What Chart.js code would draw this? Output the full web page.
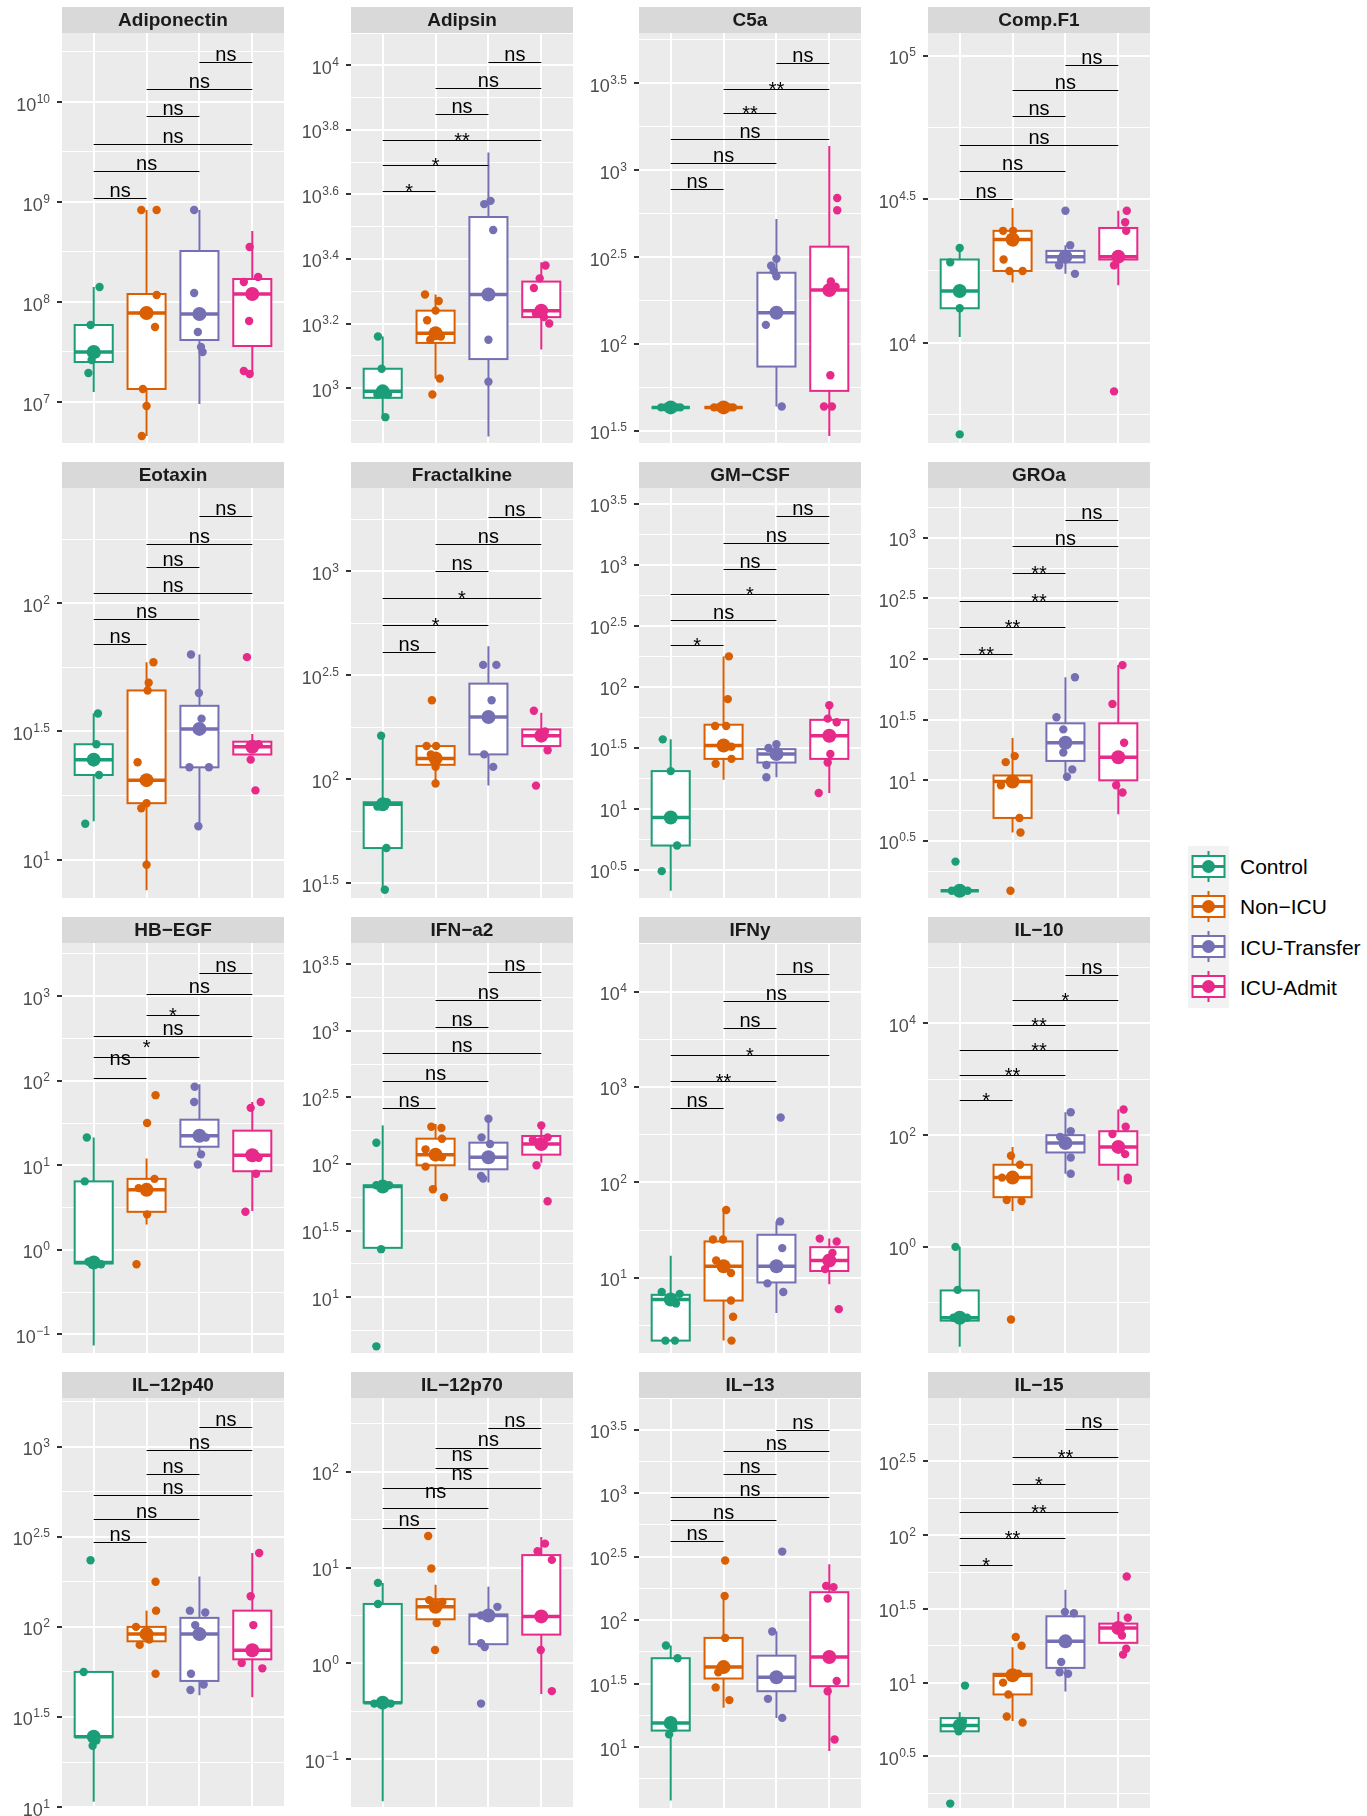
<!DOCTYPE html>
<html>
<head>
<meta charset="utf-8">
<script src="https://cdn.jsdelivr.net/npm/chart.js@4.4.0/dist/chart.umd.min.js"></script>
<style>
  body { margin: 0; background: #fff; width: 1367px; height: 1816px; position: relative; overflow: hidden;
         font-family: "Liberation Sans", Arial, sans-serif; }
  .facet { position: absolute; }
  #legend { position: absolute; left: 1188px; top: 846px; width: 41px; height: 162px; background: #F2F2F2; }
  #legend canvas { display: block; }
  .legtext { position: absolute; left: 1240px; font-size: 21px; line-height: 24px; color: #000; white-space: nowrap; }
</style>
</head>
<body>
<div id="legend"></div>
<script>
// groups and facets
const groups = ["Control", "Non\u2212ICU", "ICU-Transfer", "ICU-Admit"];
const groupColors = ["#1B9E77", "#D95F02", "#7570B3", "#E7298A"];
const panelNames = ["Adiponectin", "Adipsin", "C5a", "Comp.F1",
  "Eotaxin", "Fractalkine", "GM\u2212CSF", "GROa",
  "HB\u2212EGF", "IFN\u2212a2", "IFNy", "IL\u221210",
  "IL\u221212p40", "IL\u221212p70", "IL\u221213", "IL\u221215"];

// all values are log10 units (axis shows 10^x)
const yLimits = [[6.59, 10.69], [2.83, 4.10], [1.43, 3.79], [3.65, 5.08],
  [0.85, 2.45], [1.43, 3.40], [0.27, 3.63], [0.03, 3.41],
  [-1.22, 3.63], [0.58, 3.66], [0.21, 4.51], [-1.90, 5.44],
  [0.995, 3.27], [-1.51, 2.77], [0.52, 3.75], [0.15, 2.93]];
const yTicks = [[7, 8, 9, 10], [3, 3.2, 3.4, 3.6, 3.8, 4], [1.5, 2, 2.5, 3, 3.5], [4, 4.5, 5],
  [1, 1.5, 2], [1.5, 2, 2.5, 3], [0.5, 1, 1.5, 2, 2.5, 3, 3.5], [0.5, 1, 1.5, 2, 2.5, 3],
  [-1, 0, 1, 2, 3], [1, 1.5, 2, 2.5, 3, 3.5], [1, 2, 3, 4], [0, 2, 4],
  [1, 1.5, 2, 2.5, 3], [-1, 0, 1, 2], [1, 1.5, 2, 2.5, 3, 3.5], [0.5, 1, 1.5, 2, 2.5]];

// comparisons, top to bottom
const sigPairs = [[3, 4], [2, 4], [2, 3], [1, 4], [1, 3], [1, 2]];
const sigLabels = [
  ["ns", "ns", "ns", "ns", "ns", "ns"], ["ns", "ns", "ns", "**", "*", "*"],
  ["ns", "**", "**", "ns", "ns", "ns"], ["ns", "ns", "ns", "ns", "ns", "ns"],
  ["ns", "ns", "ns", "ns", "ns", "ns"], ["ns", "ns", "ns", "*", "*", "ns"],
  ["ns", "ns", "ns", "*", "ns", "*"], ["ns", "ns", "**", "**", "**", "**"],
  ["ns", "ns", "*", "ns", "*", "ns"], ["ns", "ns", "ns", "ns", "ns", "ns"],
  ["ns", "ns", "ns", "*", "**", "ns"], ["ns", "*", "**", "**", "**", "*"],
  ["ns", "ns", "ns", "ns", "ns", "ns"], ["ns", "ns", "ns", "ns", "ns", "ns"],
  ["ns", "ns", "ns", "ns", "ns", "ns"], ["ns", "**", "*", "**", "**", "*"]];
const sigLevels = [
  [10.40, 10.13, 9.86, 9.58, 9.31, 9.04], [4.01, 3.93, 3.85, 3.77, 3.69, 3.61],
  [3.62, 3.47, 3.33, 3.18, 3.04, 2.89], [4.97, 4.88, 4.79, 4.69, 4.60, 4.50],
  [2.34, 2.23, 2.14, 2.04, 1.94, 1.84], [3.26, 3.13, 3.00, 2.87, 2.74, 2.61],
  [3.40, 3.18, 2.97, 2.76, 2.55, 2.34], [3.15, 2.93, 2.71, 2.48, 2.26, 2.04],
  [3.28, 3.03, 2.78, 2.53, 2.28, 2.03], [3.44, 3.23, 3.03, 2.83, 2.62, 2.42],
  [4.18, 3.90, 3.62, 3.34, 3.06, 2.78], [4.86, 4.42, 3.97, 3.53, 3.08, 2.63],
  [3.11, 2.98, 2.85, 2.73, 2.60, 2.47], [2.46, 2.25, 2.04, 1.83, 1.62, 1.41],
  [3.50, 3.33, 3.15, 2.97, 2.79, 2.62], [2.72, 2.53, 2.35, 2.16, 1.98, 1.80]];

// box stats per group: [low whisker, q1, median, q3, high whisker]
// points per group: [jitter offset, value]
const adiponectinBox = [[7.10, 7.40, 7.50, 7.77, 8.15], [6.66, 7.13, 7.89, 8.08, 8.92], [6.98, 7.62, 7.88, 8.51, 8.92], [7.28, 7.56, 8.08, 8.23, 8.71]];
const adiponectinPts = [
  [[0.11, 8.15], [-0.06, 7.77], [0.05, 7.48], [-0.04, 7.42], [-0.1, 7.29]],
  [[-0.1, 8.92], [0.19, 8.92], [0.19, 8.07], [-0.06, 7.89], [0.16, 7.75], [-0.07, 7.13], [0, 6.96], [-0.09, 6.66]],
  [[-0.1, 8.92], [-0.1, 8.09], [-0.03, 7.70], [0.03, 7.55], [0.06, 7.50]],
  [[-0.05, 8.55], [-0.16, 8.20], [0.11, 8.25], [-0.06, 7.81], [-0.16, 7.31], [-0.05, 7.28]]];

const adipsinBox = [[2.91, 2.97, 2.99, 3.06, 3.16], [3.03, 3.14, 3.17, 3.24, 3.29], [2.85, 3.09, 3.29, 3.53, 3.73], [3.12, 3.22, 3.24, 3.33, 3.39]];
const adipsinPts = [
  [[-0.09, 3.16], [-0.02, 3.06], [0.1, 2.98], [-0.1, 2.98], [0.05, 2.91]],
  [[-0.2, 3.29], [0.06, 3.27], [0, 3.24], [-0.16, 3.21], [0.1, 3.16], [-0.1, 3.15], [0.08, 3.03], [-0.06, 2.98]],
  [[-0.08, 3.57], [0.04, 3.58], [0.09, 3.49], [0, 3.15], [0, 3.02]],
  [[0.08, 3.38], [-0.03, 3.34], [-0.14, 3.31], [0.15, 3.20], [-0.1, 3.23], [0.05, 3.22]]];

const c5aBox = [[1.635, 1.635, 1.635, 1.635, 1.635], [1.635, 1.635, 1.635, 1.635, 1.635], [1.64, 1.87, 2.18, 2.41, 2.72], [1.47, 1.73, 2.31, 2.56, 3.14]];
const c5aPts = [
  [[-0.18, 1.635], [-0.1, 1.635], [-0.03, 1.635], [0.05, 1.635], [0.12, 1.635], [0.18, 1.635]],
  [[-0.18, 1.635], [-0.1, 1.635], [-0.03, 1.635], [0.05, 1.635], [0.12, 1.635], [0.18, 1.635]],
  [[0, 2.49], [-0.1, 2.45], [-0.05, 2.42], [0, 2.39], [-0.2, 2.11], [0.1, 1.64]],
  [[0.15, 2.84], [0.15, 2.77], [0.03, 2.36], [0.12, 2.33], [0.02, 1.82], [-0.1, 1.64], [0.05, 1.64]]];

const compF1Box = [[4.02, 4.12, 4.18, 4.29, 4.33], [4.21, 4.25, 4.36, 4.39, 4.47], [4.24, 4.28, 4.30, 4.32, 4.34], [4.20, 4.29, 4.30, 4.40, 4.46]];
const compF1Pts = [
  [[0, 4.33], [-0.18, 4.28], [0, 4.12], [0, 3.68]],
  [[-0.18, 4.39], [0.01, 4.39], [0.02, 4.35], [-0.17, 4.29], [-0.06, 4.25], [0.19, 4.25]],
  [[0, 4.46], [0.09, 4.34], [-0.08, 4.29], [-0.12, 4.27], [0.18, 4.24]],
  [[0.16, 4.46], [0.13, 4.42], [0.15, 4.39], [-0.08, 4.27], [-0.08, 3.83]]];

const eotaxinBox = [[1.15, 1.33, 1.39, 1.45, 1.57], [0.88, 1.22, 1.31, 1.66, 1.77], [1.13, 1.36, 1.51, 1.60, 1.80], [1.41, 1.41, 1.44, 1.46, 1.49]];
const eotaxinPts = [
  [[0.08, 1.57], [0.05, 1.45], [0.1, 1.33], [-0.16, 1.14]],
  [[0.13, 1.77], [0.04, 1.69], [0.02, 1.66], [-0.17, 1.38], [0, 1.22], [-0.1, 1.20], [0, 0.98]],
  [[-0.16, 1.80], [-0.01, 1.65], [0.04, 1.55], [-0.19, 1.36], [0.18, 1.36], [-0.02, 1.13]],
  [[-0.1, 1.79], [0.12, 1.45], [-0.03, 1.39], [0.06, 1.27]]];

const fractalkineBox = [[1.47, 1.67, 1.88, 1.89, 2.21], [1.98, 2.07, 2.10, 2.16, 2.16], [1.97, 2.12, 2.30, 2.46, 2.64], [2.16, 2.16, 2.21, 2.24, 2.32]];
const fractalkinePts = [
  [[-0.03, 2.21], [0.08, 1.89], [-0.1, 1.87], [0.07, 1.67], [0.04, 1.47]],
  [[-0.07, 2.38], [-0.17, 2.16], [0.01, 2.16], [-0.09, 2.12], [0, 2.06], [0, 1.98]],
  [[-0.1, 2.55], [0.15, 2.55], [0.06, 2.38], [-0.08, 2.12], [0.09, 2.06]],
  [[-0.14, 2.33], [0.07, 2.23], [0.12, 2.14], [-0.1, 1.97]]];

const gmcsfBox = [[0.33, 0.70, 0.93, 1.31, 1.57], [1.24, 1.41, 1.52, 1.69, 2.25], [1.26, 1.38, 1.45, 1.49, 1.54], [1.13, 1.41, 1.60, 1.73, 1.86]];
const gmcsfPts = [
  [[-0.15, 1.57], [0, 1.31], [0.12, 0.70], [-0.17, 0.49]],
  [[0.1, 2.25], [0.08, 1.90], [0.05, 1.68], [-0.16, 1.68], [0.15, 1.51], [-0.15, 1.37], [0.15, 1.41]],
  [[0, 1.53], [-0.15, 1.50], [-0.19, 1.36], [-0.19, 1.26]],
  [[0, 1.85], [-0.03, 1.74], [0.14, 1.71], [0.02, 1.45], [-0.03, 1.38], [-0.2, 1.13]]];

const groaBox = [[0.09, 0.09, 0.09, 0.09, 0.09], [0.57, 0.69, 0.99, 1.04, 1.35], [1.04, 1.16, 1.31, 1.47, 1.85], [0.72, 1.00, 1.19, 1.47, 1.95]];
const groaPts = [
  [[-0.08, 0.33], [-0.15, 0.09], [-0.05, 0.09], [0.05, 0.09], [0.15, 0.09]],
  [[0.04, 1.20], [-0.13, 1.15], [-0.22, 0.96], [0.13, 0.69], [0.15, 0.57], [-0.04, 0.09]],
  [[0.18, 1.85], [-0.17, 1.52], [-0.04, 1.42], [-0.04, 1.23], [0.13, 1.09], [0.03, 1.03]],
  [[0.08, 1.95], [-0.11, 1.63], [0.11, 1.31], [-0.04, 0.96], [0.08, 0.90]]];

const hbegfBox = [[-1.13, -0.16, -0.15, 0.81, 1.33], [0.30, 0.45, 0.71, 0.84, 1.08], [1.17, 1.22, 1.35, 1.54, 1.96], [0.46, 0.93, 1.12, 1.41, 1.75]];
const hbegfPts = [
  [[-0.13, 1.33], [-0.17, 0.81], [0.14, -0.17], [-0.1, -0.14]],
  [[0.17, 1.83], [0.01, 1.50], [0.15, 0.84], [-0.15, 0.73], [0.01, 0.42], [-0.19, -0.17]],
  [[-0.09, 1.93], [-0.1, 1.75], [0.12, 1.33], [0.03, 1.13], [-0.03, 1.01]],
  [[0.16, 1.75], [-0.03, 1.68], [0.12, 1.09], [0.07, 0.90], [-0.13, 0.45]]];

const ifna2Box = [[1.37, 1.37, 1.83, 1.84, 2.29], [1.81, 1.99, 2.07, 2.19, 2.30], [1.86, 1.96, 2.05, 2.16, 2.34], [2.01, 2.07, 2.15, 2.21, 2.30]];
const ifna2Pts = [
  [[-0.12, 2.16], [-0.12, 1.84], [0.12, 1.84], [-0.03, 1.36], [-0.12, 0.63]],
  [[-0.08, 2.28], [0.11, 2.27], [0.12, 2.19], [-0.19, 2.11], [-0.19, 1.98], [0.12, 2.05], [-0.05, 1.81], [0.16, 1.75]],
  [[0, 2.34], [-0.13, 2.20], [0.03, 2.15], [-0.14, 1.91], [-0.1, 1.89]],
  [[0, 2.29], [0.12, 2.20], [-0.16, 2.18], [-0.09, 1.99], [0.12, 1.72]]];

const ifnyBox = [[0.34, 0.34, 0.77, 0.82, 1.23], [0.34, 0.76, 1.12, 1.38, 1.73], [0.63, 0.95, 1.12, 1.45, 1.59], [0.93, 1.07, 1.18, 1.32, 1.41]];
const ifnyPts = [
  [[-0.17, 0.85], [0.17, 0.83], [0.1, 0.73], [-0.1, 0.34], [0.08, 0.34]],
  [[0.05, 1.71], [-0.2, 1.40], [-0.01, 1.40], [-0.14, 1.18], [0.14, 1.05], [0.14, 0.76], [0.18, 0.59], [0.15, 0.34]],
  [[0.08, 2.68], [0.07, 1.59], [0.11, 1.31], [-0.17, 0.94], [0.13, 0.85]],
  [[-0.18, 1.41], [0.14, 1.38], [0.06, 1.26], [-0.08, 1.09], [0.18, 0.67]]];

const il10Box = [[-1.79, -1.32, -1.27, -0.78, 0.0], [0.64, 0.89, 1.24, 1.47, 1.79], [1.31, 1.69, 1.86, 2.00, 2.41], [1.19, 1.47, 1.79, 2.07, 2.46]];
const il10Pts = [
  [[-0.08, 0.0], [-0.04, -0.77], [-0.12, -1.27], [0.14, -1.27]],
  [[-0.03, 1.63], [0.14, 1.47], [-0.2, 1.24], [-0.11, 0.84], [0.17, 0.82], [-0.03, -1.30]],
  [[0.1, 2.41], [0.1, 2.07], [-0.1, 1.97], [0.1, 1.60], [0.1, 1.31]],
  [[0.1, 2.46], [0.14, 2.15], [-0.11, 2.02], [0.13, 1.66], [0.18, 1.24], [0.18, 1.19]]];

const il12p40Box = [[1.03, 1.39, 1.39, 1.75, 1.75], [1.92, 1.92, 1.96, 2.00, 2.09], [1.62, 1.70, 1.96, 2.05, 2.28], [1.61, 1.82, 1.87, 2.09, 2.41]];
const il12p40Pts = [
  [[-0.06, 2.37], [-0.19, 1.75], [0.05, 1.37], [-0.02, 1.34]],
  [[0.17, 2.25], [0.18, 2.09], [-0.2, 2.00], [0.05, 1.93], [-0.13, 1.90], [0.17, 1.74]],
  [[-0.18, 2.09], [0.11, 2.08], [-0.08, 2.01], [-0.16, 1.74], [-0.17, 1.65], [0.08, 1.68]],
  [[0.13, 2.41], [-0.03, 2.17], [0.02, 2.01], [-0.2, 1.80], [0.19, 1.77]]];

const il12p70Box = [[-1.44, -0.41, -0.41, 0.62, 0.84], [0.42, 0.46, 0.59, 0.67, 0.82], [0.20, 0.20, 0.50, 0.51, 0.80], [-0.32, 0.30, 0.49, 1.13, 1.32]];
const il12p70Pts = [
  [[-0.09, 0.84], [-0.09, 0.62], [-0.16, -0.42], [0.15, -0.42]],
  [[-0.14, 1.33], [-0.08, 0.99], [-0.12, 0.66], [0.13, 0.64], [0.02, 0.42], [-0.01, 0.14]],
  [[0.17, 0.59], [-0.14, 0.50], [-0.14, 0.21], [-0.07, 0.17], [-0.14, -0.42]],
  [[0.07, 1.25], [-0.07, 1.17], [0.2, 1.08], [-0.01, 0.14], [0.2, -0.29]]];

const il13Box = [[0.58, 1.13, 1.19, 1.70, 1.80], [1.31, 1.54, 1.63, 1.86, 2.19], [1.23, 1.44, 1.55, 1.72, 1.91], [0.97, 1.48, 1.71, 2.22, 2.44]];
const il13Pts = [
  [[-0.09, 1.80], [0.13, 1.70], [0.05, 1.15], [-0.03, 1.10]],
  [[0.03, 2.47], [0.02, 2.19], [0.03, 1.86], [-0.1, 1.59], [-0.15, 1.47], [0.11, 1.37]],
  [[0.11, 2.54], [-0.08, 1.91], [-0.16, 1.38], [0.11, 1.23]],
  [[-0.06, 2.27], [0.08, 2.26], [-0.03, 2.17], [0.14, 1.52], [-0.03, 1.44], [0.1, 1.06]]];

const il15Box = [[0.67, 0.67, 0.71, 0.76, 0.80], [0.74, 0.92, 1.05, 1.06, 1.24], [0.94, 1.10, 1.28, 1.45, 1.63], [1.27, 1.27, 1.37, 1.40, 1.48]];
const il15Pts = [
  [[0.1, 0.98], [0.06, 0.74], [-0.02, 0.67], [-0.18, 0.18]],
  [[0.06, 1.31], [0.17, 1.25], [0.11, 1.06], [-0.18, 1.00], [-0.08, 0.92], [-0.11, 0.77], [0.19, 0.73]],
  [[-0.01, 1.48], [0.16, 1.47], [-0.08, 1.14], [-0.11, 1.07], [0.05, 1.06]],
  [[0.16, 1.72], [0.18, 1.44], [0.07, 1.32], [0.15, 1.23], [0.09, 1.19]]];

const panelBoxes = [adiponectinBox, adipsinBox, c5aBox, compF1Box, eotaxinBox, fractalkineBox, gmcsfBox, groaBox,
  hbegfBox, ifna2Box, ifnyBox, il10Box, il12p40Box, il12p70Box, il13Box, il15Box];
const panelPoints = [adiponectinPts, adipsinPts, c5aPts, compF1Pts, eotaxinPts, fractalkinePts, gmcsfPts, groaPts,
  hbegfPts, ifna2Pts, ifnyPts, il10Pts, il12p40Pts, il12p70Pts, il13Pts, il15Pts];

// label nudges (px upward) where the p-value text sits off its bracket
const labelLift = { 8: [0, 0, 0, 0, 10, 12], 13: [0, 1, 6, 7, 9, 1] };

const FONT = '"Liberation Sans", Arial, sans-serif';
const colLeft = [62, 350.7, 639.3, 928];
const AXIS_W = 60, PANEL_W = 222, STRIP_H = 26, PANEL_H = 410, BOTTOM_PAD = 10;

function expText(v) {
  return String(+v.toFixed(2)).replace("-", "\u2212");
}

function gridTicks(i) {
  const [lo, hi] = yLimits[i];
  const major = yTicks[i];
  const step = major[1] - major[0];
  const out = [];
  for (let v = major[0] - step / 2; v <= hi + 1e-9; v += step / 2) {
    if (v < lo - 1e-9) continue;
    const isMajor = major.some(m => Math.abs(m - v) < 1e-6);
    out.push({ value: +v.toFixed(4), major: isMajor });
  }
  return out;
}

function facetPlugin(i) {
  return {
    id: "facet" + i,
    beforeDraw(chart) {
      const { ctx, chartArea: a } = chart;
      ctx.save();
      ctx.fillStyle = "#D9D9D9";
      ctx.fillRect(a.left, 0, a.right - a.left, a.top);
      ctx.fillStyle = "#EBEBEB";
      ctx.fillRect(a.left, a.top, a.right - a.left, a.bottom - a.top);
      ctx.fillStyle = "#1A1A1A";
      ctx.font = "bold 19px " + FONT;
      ctx.textAlign = "center";
      ctx.textBaseline = "middle";
      ctx.fillText(panelNames[i], (a.left + a.right) / 2, a.top / 2 + 1);
      ctx.restore();
    },
    beforeDatasetsDraw(chart) {
      const { ctx } = chart;
      const xs = chart.scales.x, ys = chart.scales.y;
      ctx.save();
      panelBoxes[i].forEach((b, g) => {
        const xc = xs.getPixelForValue(g + 1);
        const hw = xs.getPixelForValue(g + 1.36) - xc;
        const [lw, q1, med, q3, uw] = b.map(v => ys.getPixelForValue(v));
        ctx.strokeStyle = groupColors[g];
        ctx.lineWidth = 2;
        ctx.beginPath();
        ctx.moveTo(xc, lw); ctx.lineTo(xc, q1);
        ctx.moveTo(xc, q3); ctx.lineTo(xc, uw);
        ctx.stroke();
        ctx.fillStyle = "#FFFFFF";
        ctx.fillRect(xc - hw, q3, 2 * hw, q1 - q3);
        ctx.strokeRect(xc - hw, q3, 2 * hw, q1 - q3);
        ctx.lineWidth = 3.5;
        ctx.beginPath();
        ctx.moveTo(xc - hw, med); ctx.lineTo(xc + hw, med);
        ctx.stroke();
      });
      ctx.restore();
    },
    afterDatasetsDraw(chart) {
      const { ctx } = chart;
      const xs = chart.scales.x, ys = chart.scales.y;
      const lift = labelLift[i] || [0, 0, 0, 0, 0, 0];
      ctx.save();
      ctx.strokeStyle = "#000";
      ctx.fillStyle = "#000";
      ctx.lineWidth = 1;
      ctx.font = "20px " + FONT;
      ctx.textAlign = "center";
      ctx.textBaseline = "alphabetic";
      sigPairs.forEach(([a, b], k) => {
        const y = Math.round(ys.getPixelForValue(sigLevels[i][k])) + 0.5;
        const x1 = xs.getPixelForValue(a), x2 = xs.getPixelForValue(b);
        ctx.beginPath();
        ctx.moveTo(x1, y); ctx.lineTo(x2, y);
        ctx.stroke();
        const lab = sigLabels[i][k];
        const base = lab[0] === "*" ? y + 6 : y - 2;
        ctx.fillText(lab, (x1 + x2) / 2, base - lift[k]);
      });
      ctx.restore();
    },
    afterDraw(chart) {
      const { ctx, chartArea: a } = chart;
      const ys = chart.scales.y;
      ctx.save();
      ctx.fillStyle = "#4D4D4D";
      ctx.textAlign = "left";
      ctx.textBaseline = "alphabetic";
      yTicks[i].forEach(v => {
        const y = ys.getPixelForValue(v);
        const sup = expText(v);
        ctx.font = "18px " + FONT;
        const wb = ctx.measureText("10").width;
        ctx.font = "12px " + FONT;
        const we = ctx.measureText(sup).width;
        const x0 = a.left - 12 - we - wb - 0.5;
        ctx.font = "18px " + FONT;
        ctx.fillText("10", x0, y + 8.5);
        ctx.font = "12px " + FONT;
        ctx.fillText(sup, x0 + wb + 0.5, y + 0.5);
      });
      ctx.restore();
    }
  };
}

panelNames.forEach((name, i) => {
  const col = i % 4, row = Math.floor(i / 4);
  const div = document.createElement("div");
  div.className = "facet";
  const left = Math.round(colLeft[col] - AXIS_W);
  const width = AXIS_W + PANEL_W + 6;
  div.style.left = left + "px";
  div.style.top = (7 + 455 * row) + "px";
  const canvas = document.createElement("canvas");
  canvas.width = width;
  canvas.height = STRIP_H + PANEL_H + BOTTOM_PAD;
  div.appendChild(canvas);
  document.body.appendChild(div);

  const medians = {
    data: panelBoxes[i].map((b, g) => ({ x: g + 1, y: b[2] })),
    pointRadius: 7,
    pointHoverRadius: 7,
    pointBorderWidth: 0,
    pointBackgroundColor: groupColors,
    backgroundColor: groupColors
  };
  const jitter = panelPoints[i].map((pts, g) => ({
    data: pts.map(([dx, y]) => ({ x: g + 1 + dx, y: y })),
    pointRadius: 4.2,
    pointHoverRadius: 4.2,
    pointBorderWidth: 0,
    pointBackgroundColor: groupColors[g],
    backgroundColor: groupColors[g]
  }));

  new Chart(canvas, {
    type: "scatter",
    data: { datasets: [medians].concat(jitter) },
    options: {
      responsive: false,
      animation: false,
      events: [],
      layout: { autoPadding: false, padding: { top: STRIP_H, right: 6, bottom: BOTTOM_PAD, left: 0 } },
      plugins: { legend: { display: false }, tooltip: { enabled: false } },
      scales: {
        x: {
          type: "linear", min: 0.4, max: 4.6,
          afterBuildTicks: s => { s.ticks = [1, 2, 3, 4].map(v => ({ value: v })); },
          afterFit: s => { s.height = 0; },
          ticks: { display: false },
          border: { display: false },
          grid: { color: "#FFFFFF", lineWidth: 2, drawTicks: false }
        },
        y: {
          type: "linear", min: yLimits[i][0], max: yLimits[i][1], bounds: "data",
          afterBuildTicks: s => { s.ticks = gridTicks(i); },
          afterFit: s => { s.width = AXIS_W; },
          ticks: { display: false, autoSkip: false },
          border: { display: false },
          grid: {
            color: "#FFFFFF",
            lineWidth: c => (c.tick && c.tick.major ? 2 : 1),
            drawTicks: true,
            tickLength: 5,
            tickWidth: 2,
            tickColor: c => (c.tick && c.tick.major ? "#333333" : "rgba(0,0,0,0)")
          }
        }
      }
    },
    plugins: [facetPlugin(i)]
  });
});

// legend
const legend = document.getElementById("legend");
groups.forEach((g, k) => {
  const c = document.createElement("canvas");
  c.width = 41; c.height = 40.5;
  legend.appendChild(c);
  const ctx = c.getContext("2d");
  const col = groupColors[k];
  ctx.strokeStyle = col;
  ctx.lineWidth = 2;
  ctx.beginPath();
  ctx.moveTo(20.5, 5); ctx.lineTo(20.5, 36);
  ctx.stroke();
  ctx.fillStyle = "#FFFFFF";
  ctx.fillRect(4.5, 10, 32, 21);
  ctx.strokeRect(4.5, 10, 32, 21);
  ctx.lineWidth = 3;
  ctx.beginPath();
  ctx.moveTo(4.5, 20.5); ctx.lineTo(36.5, 20.5);
  ctx.stroke();
  ctx.fillStyle = col;
  ctx.beginPath();
  ctx.arc(20.5, 20.5, 6.5, 0, Math.PI * 2);
  ctx.fill();

  const t = document.createElement("div");
  t.className = "legtext";
  t.textContent = g;
  t.style.top = (846 + 20.5 + k * 40.5 - 12) + "px";
  document.body.appendChild(t);
});
</script>
</body>
</html>
